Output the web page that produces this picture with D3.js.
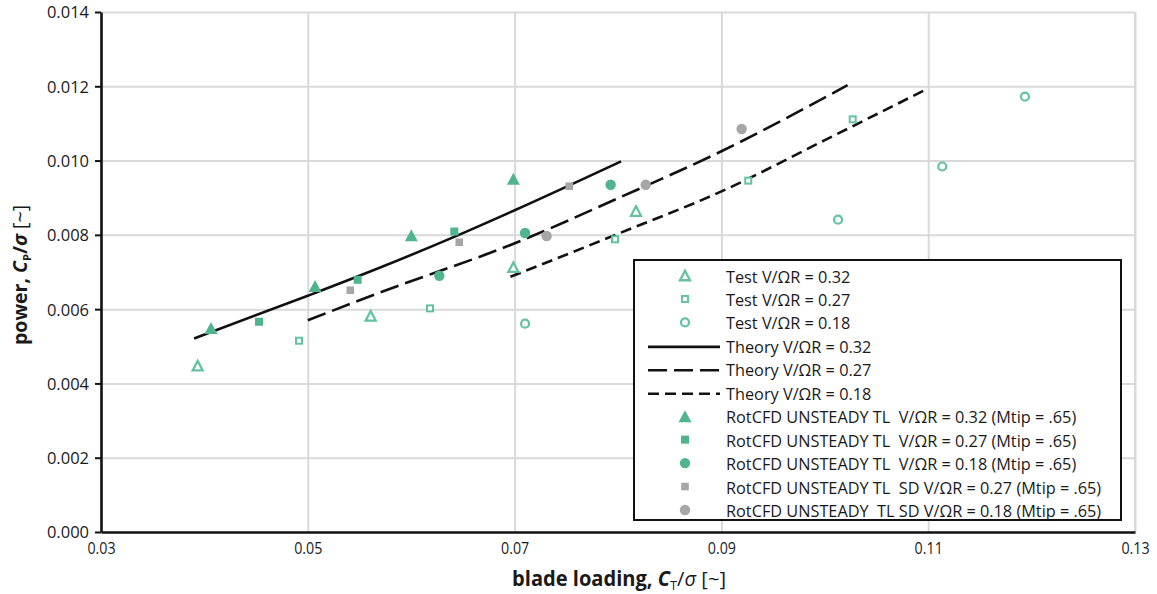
<!DOCTYPE html>
<html>
<head>
<meta charset="utf-8">
<script src="https://cdn.jsdelivr.net/npm/d3@7/dist/d3.min.js"></script>
<style>
  html, body { margin: 0; padding: 0; background: #fff; }
  svg { display: block; }
  text { font-family: "Open Sans", "Noto Sans", sans-serif; fill: #1a1a1a; }
</style>
</head>
<body>
<svg id="chart" width="1157" height="594"></svg>
<script>
// ---------- data ----------
const xTicks = [0.03, 0.05, 0.07, 0.09, 0.11, 0.13];
const yTicks = [0, 0.002, 0.004, 0.006, 0.008, 0.010, 0.012, 0.014];

const testCT032 = [0.03935, 0.05608, 0.06988, 0.08174];
const testCP032 = [0.00448, 0.00582, 0.00713, 0.00864];
const testCT027 = [0.04915, 0.06182, 0.07971, 0.09260, 0.10270];
const testCP027 = [0.00515, 0.00602, 0.00788, 0.00946, 0.01111];
const testCT018 = [0.07101, 0.10128, 0.11136, 0.11936];
const testCP018 = [0.00561, 0.00841, 0.00984, 0.01172];

const theoryCT032 = [0.0390, 0.0500, 0.0570, 0.0641, 0.0699, 0.0803];
const theoryCP032 = [0.00521, 0.00636, 0.00712, 0.00794, 0.00865, 0.00998];
const theoryCT027 = [0.0500, 0.0570, 0.0699, 0.0802, 0.0900, 0.1022];
const theoryCP027 = [0.00570, 0.00645, 0.00776, 0.00901, 0.01025, 0.01203];
const theoryCT018 = [0.0696, 0.0802, 0.0900, 0.1000, 0.1099];
const theoryCP018 = [0.00687, 0.00805, 0.00917, 0.01055, 0.01193];

const cfdCT032 = [0.04064, 0.05070, 0.06001, 0.06988];
const cfdCP032 = [0.00549, 0.00662, 0.00799, 0.00951];
const cfdCT027 = [0.04528, 0.05482, 0.06417];
const cfdCP027 = [0.00566, 0.00679, 0.00809];
const cfdCT018 = [0.06272, 0.07101, 0.07929];
const cfdCP018 = [0.00690, 0.00805, 0.00935];
const sdCT027 = [0.05411, 0.06465, 0.07529];
const sdCP027 = [0.00651, 0.00780, 0.00931];
const sdCT018 = [0.07310, 0.08268, 0.09196];
const sdCP018 = [0.00797, 0.00935, 0.01085];

const legendLabels = [
  "Test V/ΩR = 0.32",
  "Test V/ΩR = 0.27",
  "Test V/ΩR = 0.18",
  "Theory V/ΩR = 0.32",
  "Theory V/ΩR = 0.27",
  "Theory V/ΩR = 0.18",
  "RotCFD UNSTEADY TL  V/ΩR = 0.32 (Mtip = .65)",
  "RotCFD UNSTEADY TL  V/ΩR = 0.27 (Mtip = .65)",
  "RotCFD UNSTEADY TL  V/ΩR = 0.18 (Mtip = .65)",
  "RotCFD UNSTEADY TL  SD V/ΩR = 0.27 (Mtip = .65)",
  "RotCFD UNSTEADY  TL SD V/ΩR = 0.18 (Mtip = .65)"
];

// ---------- styles ----------
const TEAL = "#50b48f";
const TEAL_OPEN = "#62c2a1";
const GREY = "#a6a6a6";
const GRID = "#d9d9d9";

const svg = d3.select("#chart");
const x = d3.scaleLinear().domain([0.03, 0.13]).range([101, 1135]);
const y = d3.scaleLinear().domain([0, 0.014]).range([532, 12]);

// ---------- grid ----------
const grid = svg.append("g");
grid.append("g")
  .attr("transform", `translate(0,${y(0)})`)
  .call(d3.axisBottom(x).tickValues(xTicks.slice(1)).tickSize(-(y(0) - y(0.014))).tickFormat(""))
  .call(g => g.select(".domain").remove())
  .call(g => g.selectAll("line").attr("stroke", GRID).attr("stroke-width", 2));
grid.append("g")
  .attr("transform", `translate(${x(0.03)},0)`)
  .call(d3.axisLeft(y).tickValues(yTicks.slice(1)).tickSize(-(x(0.13) - x(0.03))).tickFormat(""))
  .call(g => g.select(".domain").remove())
  .call(g => g.selectAll("line").attr("stroke", GRID).attr("stroke-width", 2));

// ---------- theory lines ----------
const lineGen = d3.line().x(d => x(d[0])).y(d => y(d[1])).curve(d3.curveMonotoneX);
const theory = [
  { ct: theoryCT032, cp: theoryCP032, dash: null },
  { ct: theoryCT027, cp: theoryCP027, dash: "19,7" },
  { ct: theoryCT018, cp: theoryCP018, dash: "11,6" }
];
theory.forEach(t => {
  svg.append("path")
    .datum(d3.zip(t.ct, t.cp))
    .attr("d", lineGen)
    .attr("fill", "none")
    .attr("stroke", "#111")
    .attr("stroke-width", 2.6)
    .attr("stroke-dasharray", t.dash);
});

// ---------- marker drawing ----------
function triPath(w, h) {
  return `M0,${-h / 2}L${w / 2},${h / 2}L${-w / 2},${h / 2}Z`;
}
const markerDefs = {
  openTri:  g => g.append("path").attr("d", triPath(10, 9.5)).attr("fill", "#fff").attr("stroke", TEAL_OPEN).attr("stroke-width", 2.3).attr("stroke-linejoin", "miter"),
  openSq:   g => g.append("rect").attr("x", -3).attr("y", -3).attr("width", 6).attr("height", 6).attr("fill", "#fff").attr("stroke", TEAL_OPEN).attr("stroke-width", 2),
  openCirc: g => g.append("circle").attr("r", 4).attr("fill", "#fff").attr("stroke", TEAL_OPEN).attr("stroke-width", 2.2),
  fillTri:  g => g.append("path").attr("d", triPath(13, 12)).attr("fill", TEAL),
  fillSq:   g => g.append("rect").attr("x", -4).attr("y", -4).attr("width", 8).attr("height", 8).attr("fill", TEAL),
  fillCirc: g => g.append("circle").attr("r", 5.2).attr("fill", TEAL),
  greySq:   g => g.append("rect").attr("x", -3.8).attr("y", -3.8).attr("width", 7.6).attr("height", 7.6).attr("fill", GREY),
  greyCirc: g => g.append("circle").attr("r", 5.2).attr("fill", GREY)
};

const seriesPts = [
  { ct: testCT032, cp: testCP032, m: "openTri" },
  { ct: testCT027, cp: testCP027, m: "openSq" },
  { ct: testCT018, cp: testCP018, m: "openCirc" },
  { ct: sdCT027, cp: sdCP027, m: "greySq" },
  { ct: sdCT018, cp: sdCP018, m: "greyCirc" },
  { ct: cfdCT032, cp: cfdCP032, m: "fillTri" },
  { ct: cfdCT027, cp: cfdCP027, m: "fillSq" },
  { ct: cfdCT018, cp: cfdCP018, m: "fillCirc" }
];
seriesPts.forEach(s => {
  svg.append("g").selectAll("g")
    .data(d3.zip(s.ct, s.cp))
    .join("g")
    .attr("transform", d => `translate(${x(d[0])},${y(d[1])})`)
    .each(function () { markerDefs[s.m](d3.select(this)); });
});

// ---------- right frame ----------
svg.append("line").attr("x1", x(0.13)).attr("x2", x(0.13)).attr("y1", y(0.014)).attr("y2", y(0))
  .attr("stroke", GRID).attr("stroke-width", 2);

// ---------- axes ----------
const yAxis = svg.append("g")
  .attr("transform", `translate(${x(0.03)},0)`)
  .call(d3.axisLeft(y).tickValues(yTicks).tickFormat(d3.format(".3f")).tickSize(6).tickSizeOuter(0).tickPadding(6));
yAxis.select(".domain").attr("stroke", "#111").attr("stroke-width", 2.6);
yAxis.selectAll(".tick line").attr("stroke", "#111").attr("stroke-width", 2);
yAxis.selectAll("text").attr("font-size", 16.5).attr("dy", "0.36em").attr("fill", "#1a1a1a")
  .style("font-family", "'Open Sans', sans-serif");

const xAxis = svg.append("g")
  .attr("transform", `translate(0,${y(0)})`)
  .call(d3.axisBottom(x).tickValues(xTicks).tickFormat(d3.format(".2f")).tickSize(0).tickSizeOuter(0).tickPadding(10));
xAxis.select(".domain").attr("stroke", "#111").attr("stroke-width", 2.6);
xAxis.selectAll("text").attr("font-size", 17).attr("fill", "#1a1a1a")
  .attr("transform", "scale(0.84,1)")
  .style("font-family", "'Open Sans', sans-serif");

// ---------- axis titles ----------
const xt = svg.append("text")
  .attr("transform", `translate(619,586) scale(0.98,1)`)
  .attr("text-anchor", "middle")
  .attr("font-size", 20.5).attr("font-weight", "bold");
xt.append("tspan").text("blade loading, ");
xt.append("tspan").attr("font-style", "italic").text("C");
xt.append("tspan").attr("font-size", 13).attr("font-weight", "normal").attr("dy", 4).text("T");
xt.append("tspan").attr("dy", -4).attr("font-weight", "normal").text("/");
xt.append("tspan").attr("font-style", "italic").attr("font-weight", "normal").text("σ");
xt.append("tspan").attr("font-weight", "normal").text(" [~]");

const yt = svg.append("text")
  .attr("transform", `translate(27,275) rotate(-90)`)
  .attr("text-anchor", "middle")
  .attr("font-size", 19.5).attr("font-weight", "bold");
yt.append("tspan").text("power, ");
yt.append("tspan").attr("font-style", "italic").text("C");
yt.append("tspan").attr("font-size", 11).attr("dy", 4).text("P");
yt.append("tspan").attr("dy", -4).text("/");
yt.append("tspan").attr("font-style", "italic").text("σ");
yt.append("tspan").attr("font-weight", "normal").text(" [~]");

// ---------- legend ----------
const lg = svg.append("g");
lg.append("rect").attr("x", 634).attr("y", 260).attr("width", 487).attr("height", 260)
  .attr("fill", "#fff").attr("stroke", "#111").attr("stroke-width", 2);
const legendMarkers = ["openTri", "openSq", "openCirc", null, null, null, "fillTri", "fillSq", "fillCirc", "greySq", "greyCirc"];
const legendDash = [null, null, null, "none", "19,7", "11,6", null, null, null, null, null];
legendLabels.forEach((lab, i) => {
  const cy = 275.5 + i * 23.45;
  if (legendMarkers[i]) {
    const g = lg.append("g").attr("transform", `translate(685,${cy})`);
    markerDefs[legendMarkers[i]](g);
  } else {
    lg.append("line").attr("x1", 648).attr("x2", 720).attr("y1", cy + 1).attr("y2", cy + 1)
      .attr("stroke", "#111").attr("stroke-width", 2.6)
      .attr("stroke-dasharray", legendDash[i] === "none" ? null : legendDash[i]);
  }
  lg.append("text").attr("x", 726).attr("y", cy + 7)
    .attr("font-size", 16.3).style("white-space", "pre").text(lab);
});
</script>
</body>
</html>
